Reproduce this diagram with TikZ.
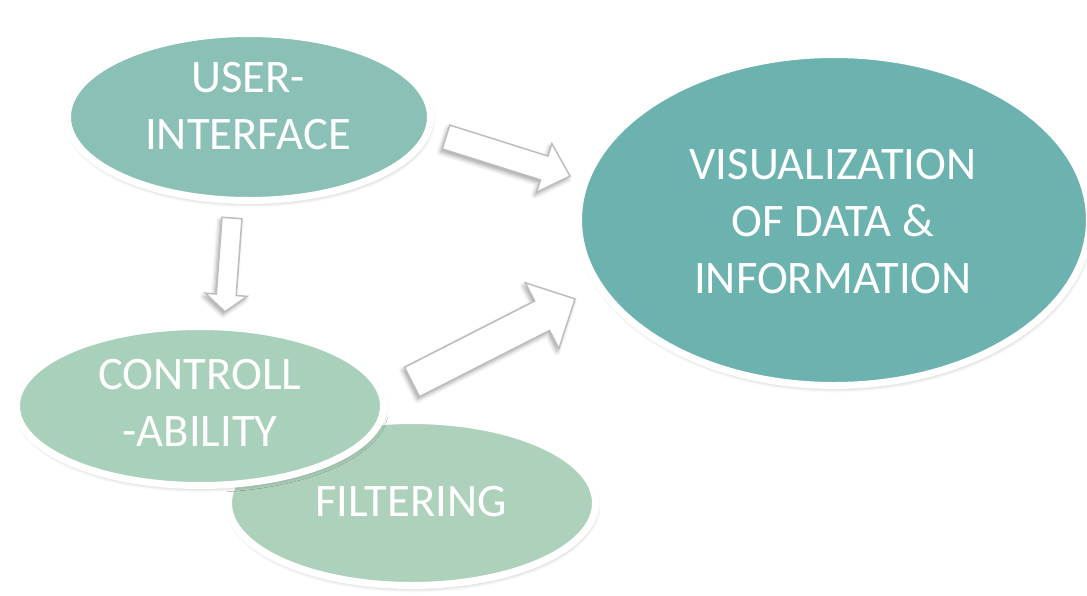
\documentclass[tikz,border=0pt]{standalone}
\usepackage{fontspec}
\setmainfont{Carlito}
\usetikzlibrary{shapes.geometric,shadows.blur}

\definecolor{uicol}{HTML}{8BC0B6}
\definecolor{viscol}{HTML}{6CB3B0}
\definecolor{ctrlcol}{HTML}{A9D0BA}
\definecolor{filtcol}{HTML}{AED1BB}
\definecolor{arrowline}{HTML}{BDBDBD}

\tikzset{
  bubble/.style={ellipse, draw=white, line width=7pt, inner sep=0pt,
    blur shadow={shadow xshift=1pt, shadow yshift=-3pt, shadow blur radius=4pt,
      shadow opacity=30}},
  lbl/.style={text=white, align=center, inner sep=0pt,
    font=\fontsize{46.6}{57}\selectfont},
  blockarrow/.style={fill=white, draw=arrowline, line width=1.5pt, line join=miter,
    blur shadow={shadow xshift=-2pt, shadow yshift=-3pt, shadow blur radius=4pt,
      shadow opacity=35}}
}

% block arrow along the local x axis: length, shaft width, head width, head length
\newcommand\blockarr[4]{%
  \path[blockarrow] (0,{#2/2}) -- ({#1-#4},{#2/2}) -- ({#1-#4},{#3/2}) -- (#1,0)
    -- ({#1-#4},{-#3/2}) -- ({#1-#4},{-#2/2}) -- (0,{-#2/2}) -- cycle;}

\begin{document}
\begin{tikzpicture}[x=1pt,y=-1pt]
\useasboundingbox (0,0) rectangle (1087,595);

% ellipses, back to front
\node[bubble, fill=filtcol, minimum width=367pt, minimum height=165pt] (filt) at (412,503) {};
\node[bubble, fill=ctrlcol, minimum width=367pt, minimum height=159pt] (ctrl) at (200,406) {};
\node[bubble, fill=uicol, minimum width=363pt, minimum height=167pt] (ui) at (249,117) {};
\node[bubble, fill=viscol, minimum width=511pt, minimum height=331pt] (vis) at (834,220) {};

% labels
\node[lbl] (uitext) at (248,106.5) {USER-\\INTERFACE};
\node[lbl] (vistext) at (833,222) {VISUALIZATION\\OF DATA \&\\INFORMATION};
\node[lbl] (ctrltext) at (200,403) {CONTROLL\\-ABILITY};
\node[lbl] (filttext) at (411,502) {FILTERING};

% arrow end points
\coordinate (ui-vis-a) at (446,137);
\coordinate (ui-vis-b) at (570,176);
\coordinate (ctrl-vis-a) at (412,382);
\coordinate (ctrl-vis-b) at (575,299);
\coordinate (ui-ctrl-a) at (232,218);
\coordinate (ui-ctrl-b) at (225,312);

% block arrows between the ellipses
\begin{scope}[shift={(ui-vis-a)}, rotate=-17.5]
  \blockarr{130}{25}{51}{27}
\end{scope}
\begin{scope}[shift={(ctrl-vis-a)}, rotate=27]
  \blockarr{183}{33}{74}{37}
\end{scope}
\begin{scope}[shift={(ui-ctrl-a)}, rotate=-94.3]
  \blockarr{94}{20}{42}{17}
\end{scope}
\end{tikzpicture}
\end{document}
